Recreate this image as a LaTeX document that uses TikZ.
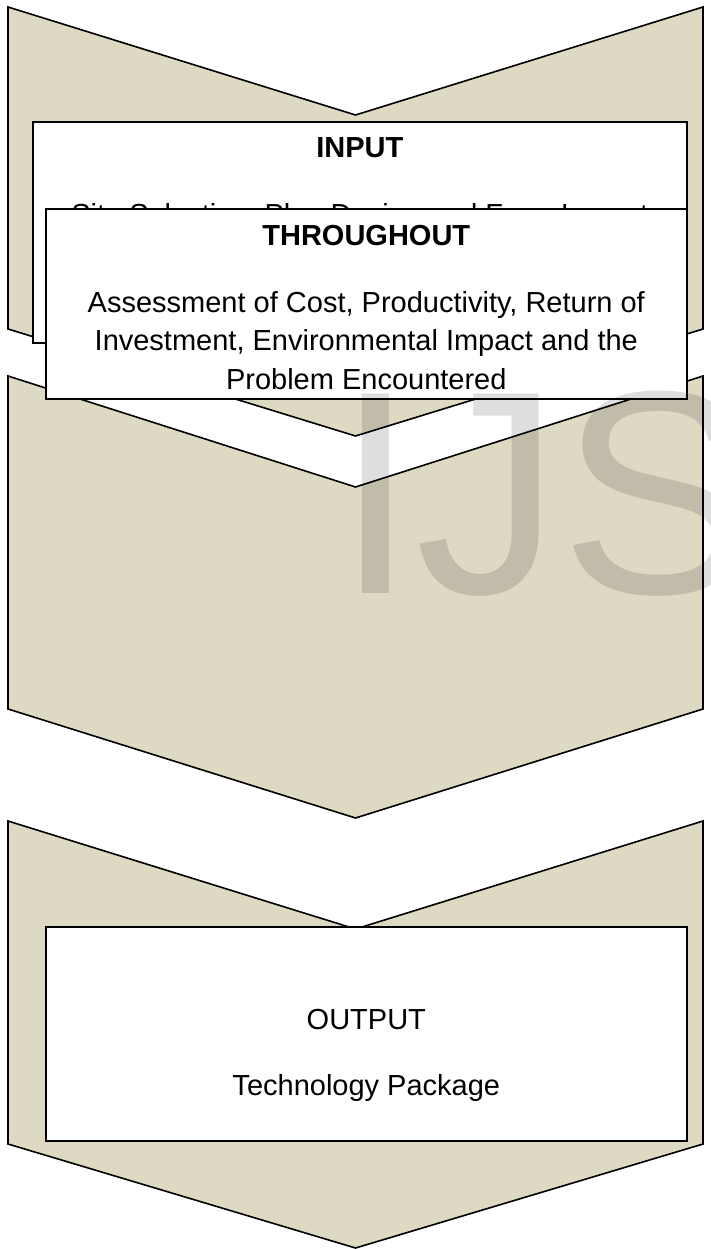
\documentclass[tikz,border=0pt]{standalone}
\usepackage{fontspec}
\setmainfont{Liberation Sans}
\usepackage{tikz}
\usetikzlibrary{positioning}
\definecolor{mytan}{RGB}{221,217,195}

\begin{document}
\begin{tikzpicture}[x=1pt, y=-1pt,
    chevron/.style={fill=mytan, draw=black, line width=1.6pt, line join=miter},
    box/.style={rectangle, fill=white, draw=black, line width=1.6pt, inner sep=0pt, anchor=north west},
    label/.style={inner sep=0pt, font=\fontsize{29}{38.5}\selectfont, align=center},
    head/.style={label, font=\fontsize{29}{38.5}\selectfont\bfseries}]
    \path[use as bounding box, clip] (0,0) rectangle (710,1249);

    % chevrons: top corner / notch / bottom corner / point
    \foreach \t/\n/\b/\p in {7/115/329/436, 376/487/709/818, 821/929/1144/1248}
        \draw[chevron] (8,\t) -- (355.5,\n) -- (703,\t) -- (703,\b) -- (355.5,\p) -- (8,\b) -- cycle;

    \node[box, minimum width=654pt, minimum height=221pt] (I) at (32,121) {};
    \node[head] (Ihead) [below=16pt of I.north] {INPUT};
    \node[label] (Itext) [below=82pt of I.north] {Site Selection, Plan Design and Farm Layout};

    \node[box, minimum width=641pt, minimum height=190pt] (T) at (45,208) {};
    \node[head] (Thead) [below=17pt of T.north] {THROUGHOUT};
    \node[label] (Ttext) [below=83pt of T.north] {Assessment of Cost, Productivity, Return of\\
        Investment, Environmental Impact and the\\Problem Encountered};

    \node[box, minimum width=641pt, minimum height=214pt] (O) at (45,926) {};
    \node[label] (Ohead) [below=83pt of O.north] {OUTPUT};
    \node[label] (Otext) [below=148pt of O.north] {Technology Package};

    % watermark on top
    \node[anchor=base west, inner sep=0pt, text=black, text opacity=0.13,
        font=\fontsize{290}{290}\selectfont] (W) at (335,593) {IJS};
\end{tikzpicture}
\end{document}
